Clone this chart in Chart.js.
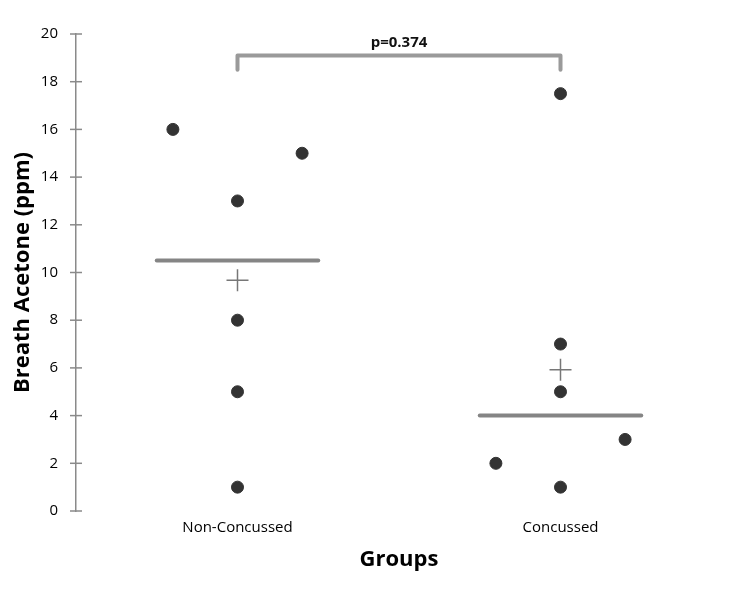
<!DOCTYPE html>
<html>
<head>
<meta charset="utf-8">
<script src="https://cdn.jsdelivr.net/npm/chart.js@4"></script>
<style>
  html, body { margin: 0; padding: 0; background: #fff; }
  #wrap { width: 750px; height: 595px; }
</style>
</head>
<body>
<div id="wrap"><canvas id="acetoneChart"></canvas></div>
<script>
// groups and their x position on the linear scale
const groups = ['Non-Concussed', 'Concussed'];
const groupPos = [1, 2];

// individual subjects (x offset is the jitter used in the figure)
const nonConcussedX = [0.8, 1.2, 1, 1, 1, 1];
const nonConcussedY = [16, 15, 13, 8, 5, 1];
const concussedX = [2, 2, 2, 1.8, 2.2, 2];
const concussedY = [17.5, 7, 5, 2, 3, 1];

// summary values
const medians = [10.5, 4];
const means = [9.67, 5.92];
const pValueText = 'p=0.374';
const bracketTop = 19.1;
const bracketLeg = 18.5;

const yTicks = [0, 2, 4, 6, 8, 10, 12, 14, 16, 18, 20];

const FONT = "'Open Sans', sans-serif";

function pairs(xs, ys) {
    return xs.map((x, i) => ({ x: x, y: ys[i] }));
}

const medianSets = medians.map((m, i) => ({
    type: 'line',
    data: [{ x: groupPos[i] - 0.25, y: m }, { x: groupPos[i] + 0.25, y: m }],
    borderColor: '#858585',
    borderWidth: 4,
    pointRadius: 0,
    borderCapStyle: 'round',
    showLine: true
}));

// tick marks crossing the y axis, plus the p-value label
const extras = {
    id: 'extras',
    afterDraw(chart) {
        const ctx = chart.ctx;
        const y = chart.scales.y;
        const x = chart.scales.x;
        const ax = chart.chartArea.left;
        ctx.save();
        ctx.strokeStyle = '#8a8a8a';
        ctx.lineWidth = 1.5;
        yTicks.forEach(v => {
            const py = y.getPixelForValue(v);
            ctx.beginPath();
            ctx.moveTo(ax - 6, py);
            ctx.lineTo(ax + 6, py);
            ctx.stroke();
        });
        ctx.fillStyle = '#111111';
        ctx.font = 'bold 15px ' + FONT;
        ctx.textAlign = 'center';
        ctx.textBaseline = 'middle';
        const mid = x.getPixelForValue((groupPos[0] + groupPos[1]) / 2);
        ctx.fillText(pValueText, mid, y.getPixelForValue(bracketTop) - 13);
        ctx.restore();
    }
};

new Chart(document.getElementById('acetoneChart'), {
    type: 'scatter',
    data: {
        datasets: [
            {
                data: pairs(nonConcussedX, nonConcussedY).concat(pairs(concussedX, concussedY)),
                backgroundColor: '#333333',
                borderColor: '#333333',
                pointRadius: 6,
                pointHoverRadius: 6
            },
            ...medianSets,
            {
                data: pairs(groupPos, means),
                pointStyle: 'cross',
                pointRadius: 11,
                borderColor: '#777777',
                borderWidth: 1.5
            },
            {
                type: 'line',
                data: [
                    { x: groupPos[0], y: bracketLeg },
                    { x: groupPos[0], y: bracketTop },
                    { x: groupPos[1], y: bracketTop },
                    { x: groupPos[1], y: bracketLeg }
                ],
                borderColor: '#9a9a9a',
                borderWidth: 4,
                borderCapStyle: 'round',
                borderJoinStyle: 'round',
                pointRadius: 0,
                tension: 0
            }
        ]
    },
    options: {
        responsive: true,
        maintainAspectRatio: false,
        animation: false,
        layout: { padding: { top: 34, right: 28, left: 0, bottom: 0 } },
        plugins: {
            legend: { display: false },
            tooltip: { enabled: false }
        },
        scales: {
            x: {
                type: 'linear',
                min: 0.5,
                max: 2.5,
                afterBuildTicks: s => { s.ticks = groupPos.map(v => ({ value: v })); },
                ticks: {
                    callback: v => groups[groupPos.indexOf(v)] || '',
                    color: '#000000',
                    font: { family: FONT, size: 15 },
                    padding: 8,
                    maxRotation: 0
                },
                grid: { display: false, drawTicks: false },
                border: { display: false },
                title: {
                    display: true,
                    text: 'Groups',
                    color: '#000000',
                    font: { family: FONT, size: 22, weight: 'bold' },
                    padding: { top: 0, bottom: 22 }
                },
                afterFit: s => { s.height = 84; }
            },
            y: {
                min: 0,
                max: 20,
                afterBuildTicks: s => { s.ticks = yTicks.map(v => ({ value: v })); },
                ticks: {
                    color: '#000000',
                    font: { family: FONT, size: 15 },
                    padding: 18
                },
                grid: { display: false, drawTicks: false },
                border: { display: true, color: '#8a8a8a', width: 1.5 },
                title: {
                    display: true,
                    text: 'Breath Acetone (ppm)',
                    color: '#000000',
                    font: { family: FONT, size: 22, weight: 'bold' },
                    padding: { top: 10, bottom: 4 }
                },
                afterFit: s => { s.width = 76; }
            }
        }
    },
    plugins: [extras]
});
</script>
</body>
</html>
